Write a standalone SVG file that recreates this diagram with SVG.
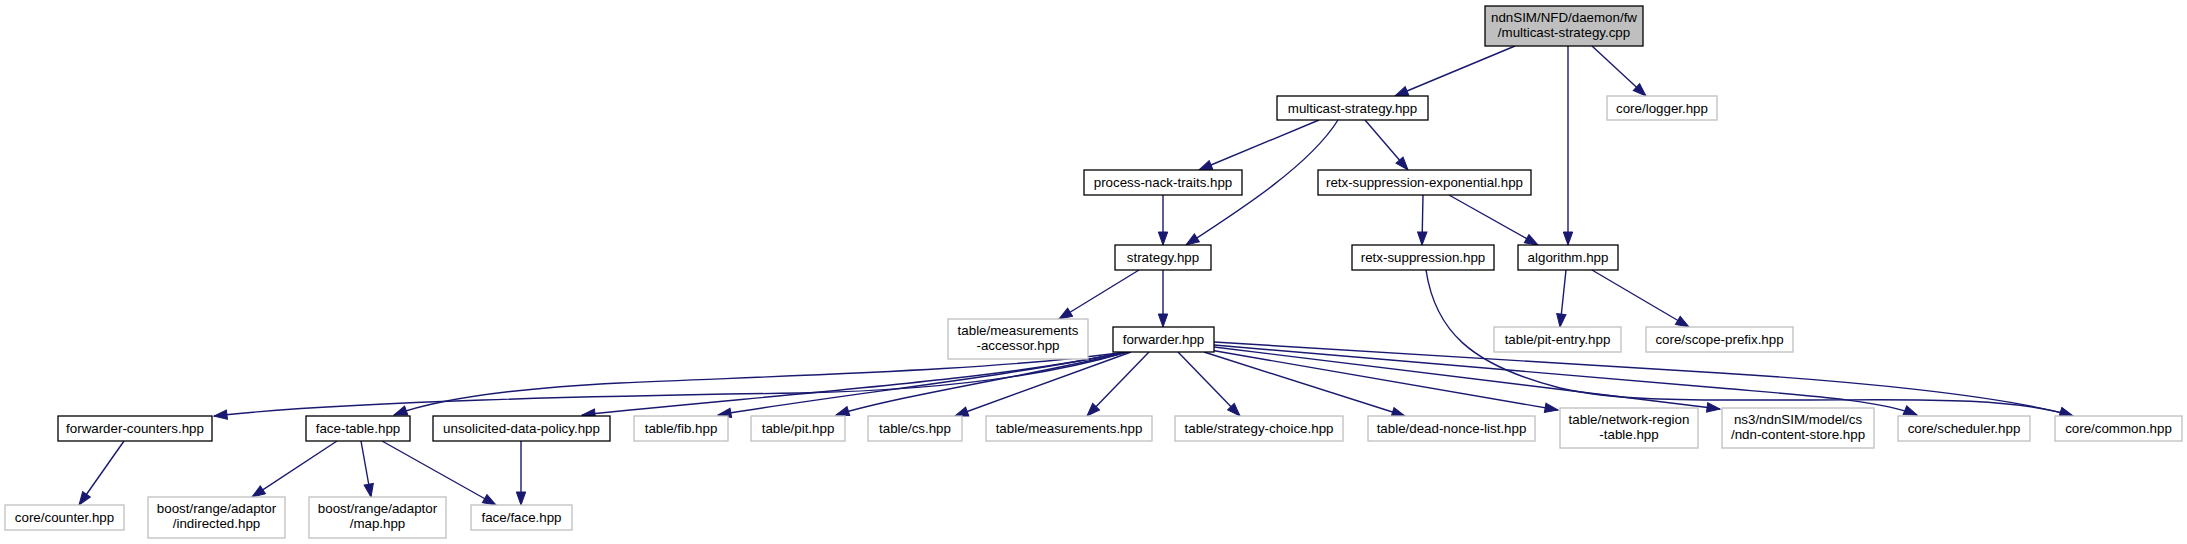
<svg xmlns="http://www.w3.org/2000/svg" width="2187" height="544" viewBox="0 0 2187 544">
<defs>
<style>
.n rect{fill:#ffffff;stroke:#000000;stroke-width:1.3}
.n.x rect{stroke:#bfbfbf}
.n.r rect{fill:#bfbfbf}
text{font-family:"Liberation Sans",Arial,Helvetica,sans-serif;font-size:13.33px;text-anchor:middle;fill:#000000}
#edges path{fill:none;stroke:#191970;stroke-width:1.4;marker-end:url(#arr)}
</style>
<marker id="arr" markerUnits="userSpaceOnUse" markerWidth="16" markerHeight="12" viewBox="0 -6 14 12" refX="13" refY="0" orient="auto">
<path d="M0,-4.7 L13,0 L0,4.7 Z" fill="#191970" stroke="#191970" stroke-width="1"/>
</marker>
</defs>
<rect x="0" y="0" width="2187" height="544" fill="#ffffff"/>
<g id="edges">
<path d="M1515,46 L1395,96"/>
<path d="M1568,46 L1568,245"/>
<path d="M1592,46 L1646,96"/>
<path d="M1319,120 L1199,170"/>
<path d="M1338,120 C1310,165 1240,210 1186,245"/>
<path d="M1365,120 L1408,170"/>
<path d="M1163,195 L1163,245"/>
<path d="M1423,195 L1422,245"/>
<path d="M1449,195 L1538,245"/>
<path d="M1139,270 L1059,319"/>
<path d="M1163,270 L1163,327"/>
<path d="M1426,270 C1435,330 1470,365 1560,388 C1620,402 1700,400 1800,400 C1900,400 2010,396 2073,416"/>
<path d="M1566,270 L1560,327"/>
<path d="M1592,270 L1689,327"/>
<path d="M1149,352 L1087,416"/>
<path d="M1178,352 L1240,416"/>
<path d="M1204,352 L1405,416"/>
<path d="M1210,350 L1558,410"/>
<path d="M1214,347 L1720,409"/>
<path d="M1214,345 L1720,388 C1800,395 1880,400 1917,415"/>
<path d="M1214,342 L1720,373 C1850,381 2000,395 2073,416"/>
<path d="M1131,352 L955,416"/>
<path d="M1128,352 C1050,372 900,395 836,415"/>
<path d="M1126,352 C1000,378 850,393 718,415"/>
<path d="M1125,352 C1000,380 760,396 582,415"/>
<path d="M1126,352 C1000,370 800,375 620,383 C520,388 440,398 394,415"/>
<path d="M1127,352 C1050,375 950,390 800,393 C600,396 350,401 214,416"/>
<path d="M124,441 L79,505"/>
<path d="M337,441 L252,497"/>
<path d="M361,441 L371,497"/>
<path d="M382,441 L496,505"/>
<path d="M521,441 L521,505"/>
</g>
<g id="root" class="n r"><rect x="1485" y="6" width="158" height="40"/><text x="1564" y="22">ndnSIM/NFD/daemon/fw</text><text x="1564" y="37">/multicast-strategy.cpp</text></g>
<g id="multicast_strategy_hpp" class="n"><rect x="1277" y="96" width="151" height="24"/><text x="1352.5" y="112.5">multicast-strategy.hpp</text></g>
<g id="core_logger_hpp" class="n x"><rect x="1607" y="96" width="110" height="24"/><text x="1662" y="112.5">core/logger.hpp</text></g>
<g id="process_nack_traits_hpp" class="n"><rect x="1084" y="170" width="158" height="25"/><text x="1163" y="187">process-nack-traits.hpp</text></g>
<g id="retx_suppression_exponential_hpp" class="n"><rect x="1318" y="170" width="213" height="25"/><text x="1424.5" y="187">retx-suppression-exponential.hpp</text></g>
<g id="strategy_hpp" class="n"><rect x="1115" y="245" width="96" height="25"/><text x="1163" y="262">strategy.hpp</text></g>
<g id="retx_suppression_hpp" class="n"><rect x="1352" y="245" width="142" height="25"/><text x="1423" y="262">retx-suppression.hpp</text></g>
<g id="algorithm_hpp" class="n"><rect x="1518" y="245" width="100" height="25"/><text x="1568" y="262">algorithm.hpp</text></g>
<g id="table_measurements_accessor_hpp" class="n x"><rect x="948" y="319" width="140" height="40"/><text x="1018" y="335">table/measurements</text><text x="1018" y="350">-accessor.hpp</text></g>
<g id="forwarder_hpp" class="n"><rect x="1113" y="327" width="101" height="25"/><text x="1163.5" y="344">forwarder.hpp</text></g>
<g id="table_pit_entry_hpp" class="n x"><rect x="1494" y="327" width="127" height="25"/><text x="1557.5" y="344">table/pit-entry.hpp</text></g>
<g id="core_scope_prefix_hpp" class="n x"><rect x="1646" y="327" width="147" height="25"/><text x="1719.5" y="344">core/scope-prefix.hpp</text></g>
<g id="forwarder_counters_hpp" class="n"><rect x="58" y="416" width="154" height="25"/><text x="135" y="433">forwarder-counters.hpp</text></g>
<g id="face_table_hpp" class="n"><rect x="306" y="416" width="104" height="25"/><text x="358" y="433">face-table.hpp</text></g>
<g id="unsolicited_data_policy_hpp" class="n"><rect x="433" y="416" width="177" height="25"/><text x="521.5" y="433">unsolicited-data-policy.hpp</text></g>
<g id="table_fib_hpp" class="n x"><rect x="634" y="416" width="94" height="25"/><text x="681" y="433">table/fib.hpp</text></g>
<g id="table_pit_hpp" class="n x"><rect x="751" y="416" width="94" height="25"/><text x="798" y="433">table/pit.hpp</text></g>
<g id="table_cs_hpp" class="n x"><rect x="868" y="416" width="94" height="25"/><text x="915" y="433">table/cs.hpp</text></g>
<g id="table_measurements_hpp" class="n x"><rect x="986" y="416" width="166" height="25"/><text x="1069" y="433">table/measurements.hpp</text></g>
<g id="table_strategy_choice_hpp" class="n x"><rect x="1175" y="416" width="168" height="25"/><text x="1259" y="433">table/strategy-choice.hpp</text></g>
<g id="table_dead_nonce_list_hpp" class="n x"><rect x="1368" y="416" width="167" height="25"/><text x="1451.5" y="433">table/dead-nonce-list.hpp</text></g>
<g id="table_network_region_table_hpp" class="n x"><rect x="1560" y="408" width="138" height="40"/><text x="1629" y="424">table/network-region</text><text x="1629" y="439">-table.hpp</text></g>
<g id="ndn_content_store_hpp" class="n x"><rect x="1722" y="408" width="152" height="40"/><text x="1798" y="424">ns3/ndnSIM/model/cs</text><text x="1798" y="439">/ndn-content-store.hpp</text></g>
<g id="core_scheduler_hpp" class="n x"><rect x="1898" y="416" width="132" height="25"/><text x="1964" y="433">core/scheduler.hpp</text></g>
<g id="core_common_hpp" class="n x"><rect x="2055" y="416" width="127" height="25"/><text x="2118.5" y="433">core/common.hpp</text></g>
<g id="core_counter_hpp" class="n x"><rect x="5" y="505" width="119" height="25"/><text x="64.5" y="522">core/counter.hpp</text></g>
<g id="boost_indirected_hpp" class="n x"><rect x="148" y="497" width="137" height="41"/><text x="216.5" y="513">boost/range/adaptor</text><text x="216.5" y="528">/indirected.hpp</text></g>
<g id="boost_map_hpp" class="n x"><rect x="309" y="497" width="137" height="41"/><text x="377.5" y="513">boost/range/adaptor</text><text x="377.5" y="528">/map.hpp</text></g>
<g id="face_face_hpp" class="n x"><rect x="471" y="505" width="101" height="25"/><text x="521.5" y="522">face/face.hpp</text></g>
</svg>
